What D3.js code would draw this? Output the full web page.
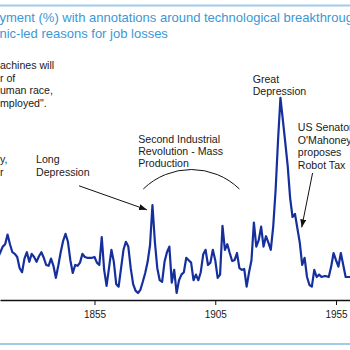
<!DOCTYPE html>
<html lang="en">
<head>
<meta charset="UTF-8" />
<title>Unemployment (%) with annotations</title>
<script src="https://d3js.org/d3.v7.min.js"></script>
<style>
  body { margin: 0; background: #fff; }
  svg { display: block; font-family: "Liberation Sans", Arial, sans-serif; }
  .note { font-size: 10.6px; fill: #1a1a1a; }
  .title { font-size: 13px; fill: #3b97d5; }
</style>
</head>
<body>
<svg width="350" height="350"></svg>
<script>
// annual unemployment rate (%)
const firstYear = 1815;
const unemployment = [
  4.9, 5.6, 6.3, 6.6, 7.8, 6.6, 5.6, 5.4, 5.0, 3.6,
  3.1, 4.8, 5.6, 4.4, 5.4, 5.0, 4.4, 5.1, 5.6, 4.9,
  4.0, 3.9, 4.8, 3.9, 2.4, 3.9, 5.6, 7.0, 7.9, 6.9,
  4.6, 3.0, 4.0, 3.9, 4.3, 5.4, 5.0, 4.9, 4.9, 4.9,
  5.0, 4.3, 4.0, 7.5, 3.4, 1.4, 3.6, 5.9, 4.4, 1.6,
  1.3, 3.6, 5.9, 6.9, 6.3, 3.6, 1.6, 0.8, 0.5, 0.9,
  1.9, 3.0, 4.4, 6.5, 11.5, 6.9, 3.6, 2.1, 1.9, 4.4,
  5.6, 6.3, 1.8, 3.4, 0.5, 2.1, 2.8, 3.1, 4.9, 4.6,
  4.3, 2.1, 2.8, 2.1, 3.1, 5.3, 5.9, 4.0, 4.3, 5.9,
  4.6, 2.4, 2.8, 8.9, 5.9, 6.6, 5.5, 4.5, 4.6, 5.5,
  3.6, 3.4, 3.5, 1.3, 3.1, 4.6, 9.3, 6.3, 7.1, 8.8,
  6.3, 7.6, 6.8, 5.9, 8.8, 13.4, 19.6, 24.9, 22.1, 19.3,
  16.4, 12.4, 10.0, 10.4, 8.6, 6.8, 4.0, 4.9, 2.5, 1.5,
  1.3, 3.4, 2.5, 2.8, 2.5, 2.6, 2.6, 2.5, 3.8, 5.5,
  4.6, 3.8, 5.5, 4.0, 2.5, 2.5, 2.5
];
const years = d3.range(firstYear, firstYear + unemployment.length);
const tickYears = [1855, 1905, 1955];

const titleLines = [
  "yment (%) with annotations around technological breakthroughs and",
  "nic-led reasons for job losses"
];

// text notes: anchored at (year, value) of the first line's baseline
const notes = [
  { year: 1815.85, value: 28.5, lh: 12.7, lines: ["achines will", "r of", "uman race,", "mployed\"."] },
  { year: 1815.85, value: 16.7, lh: 12.3, lines: ["y,", "r"] },
  { year: 1830.8, value: 16.7, lh: 12.3, lines: ["Long", "Depression"] },
  { year: 1873.1, value: 19.2, lh: 12, lines: ["Second Industrial", "Revolution - Mass", "Production"] },
  { year: 1920.5, value: 26.8, lh: 12.5, lines: ["Great", "Depression"] },
  { year: 1939.2, value: 20.75, lh: 12.5, lines: ["US Senator", "O'Mahoney", "proposes", "Robot Tax"] }
];
const arrows = [
  { from: [1848.6, 13.9], to: [1876.7, 10.9] },
  { from: [1945.3, 15.5], to: [1940.8, 8.7] }
];
const arc = { from: [1875.2, 13.5], to: [1915.0, 13.5] };

const svg = d3.select("svg"),
      W = +svg.attr("width"),
      H = +svg.attr("height"),
      axisY = 300;

const x = d3.scaleLinear().domain([1855, 1955]).range([94.5, 336]);
const y = d3.scaleLinear().domain([0, 25]).range([297, 97]);

svg.append("defs").append("marker")
  .attr("id", "head")
  .attr("markerUnits", "userSpaceOnUse")
  .attr("viewBox", "0 0 8 6")
  .attr("markerWidth", 8).attr("markerHeight", 6)
  .attr("refX", 8).attr("refY", 3)
  .attr("orient", "auto")
  .append("path").attr("d", "M0,0L8,3L0,6Z").attr("fill", "#111");

// top and bottom rules
svg.append("line").attr("x1", 0).attr("x2", W).attr("y1", 5.5).attr("y2", 5.5)
  .attr("stroke", "#9fcbeb").attr("stroke-width", 2.2);
svg.append("line").attr("x1", 0).attr("x2", W).attr("y1", 344).attr("y2", 344)
  .attr("stroke", "#9fcbeb").attr("stroke-width", 2.2);

// title
svg.selectAll(".title").data(titleLines).enter().append("text")
  .attr("class", "title")
  .attr("x", -0.5)
  .attr("y", (d, i) => 22.3 + i * 16)
  .text(d => d);

// x axis across the full width
const axisX = x.copy().domain([x.invert(0), x.invert(W)]).range([0, W]);
const ax = svg.append("g")
  .attr("transform", `translate(0,${axisY})`)
  .call(d3.axisBottom(axisX).tickValues(tickYears).tickFormat(d3.format("d"))
    .tickSize(5).tickPadding(6).tickSizeOuter(0));
ax.select(".domain").attr("stroke", "#111").attr("stroke-width", 1.3);
ax.selectAll(".tick line").attr("stroke", "#111");
ax.selectAll(".tick text").attr("fill", "#1a1a1a")
  .style("font-size", "10px").style("font-family", "'Liberation Sans', Arial, sans-serif");

// series line
const line = d3.line().x((d, i) => x(years[i])).y(d => y(d));
svg.append("path")
  .datum(unemployment)
  .attr("fill", "none")
  .attr("stroke", "#15309d")
  .attr("stroke-width", 2.2)
  .attr("stroke-linejoin", "round")
  .attr("d", line);

// annotations
notes.forEach(n => {
  svg.selectAll(null).data(n.lines).enter().append("text")
    .attr("class", "note")
    .attr("x", x(n.year))
    .attr("y", (d, i) => y(n.value) + i * n.lh)
    .text(d => d);
});

arrows.forEach(a => {
  svg.append("line")
    .attr("x1", x(a.from[0])).attr("y1", y(a.from[1]))
    .attr("x2", x(a.to[0])).attr("y2", y(a.to[1]))
    .attr("stroke", "#111").attr("stroke-width", 1)
    .attr("marker-end", "url(#head)");
});

const ax0 = x(arc.from[0]), ay0 = y(arc.from[1]), ax1 = x(arc.to[0]), ay1 = y(arc.to[1]);
svg.append("path")
  .attr("d", `M${ax0},${ay0}A69,69 0 0,1 ${ax1},${ay1}`)
  .attr("fill", "none").attr("stroke", "#111").attr("stroke-width", 1);
</script>
</body>
</html>
